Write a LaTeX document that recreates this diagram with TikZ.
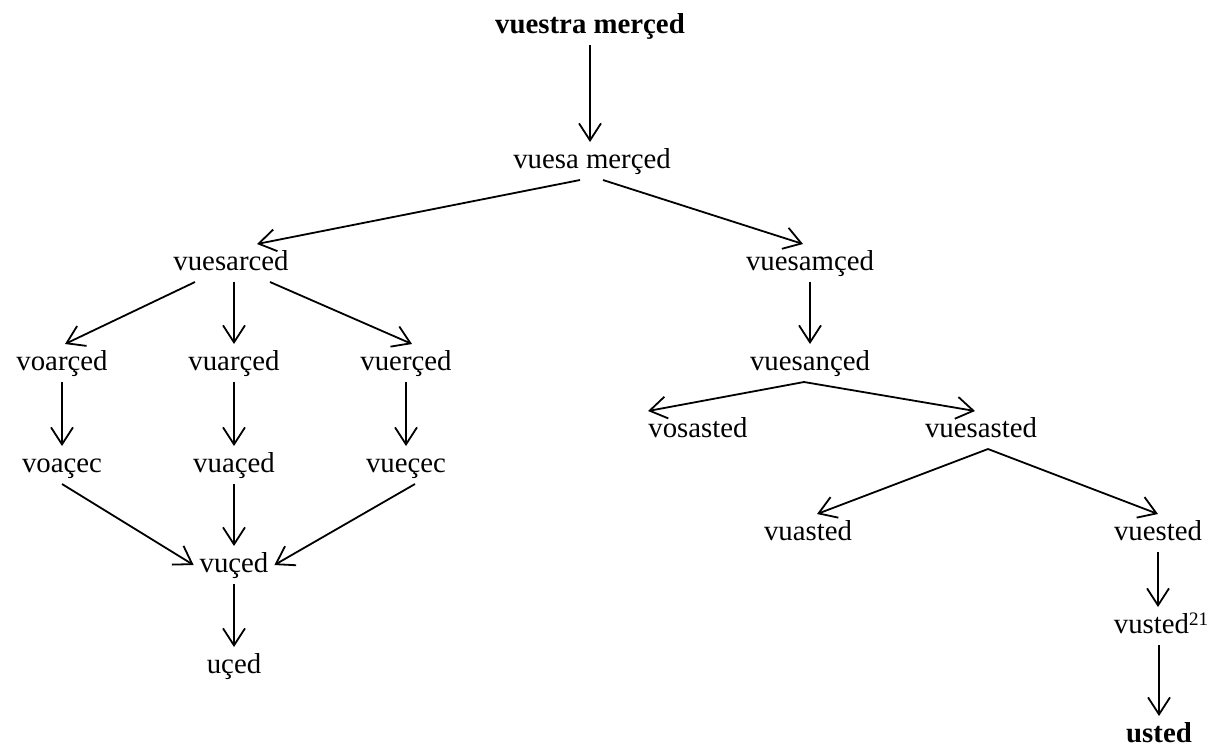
\documentclass[tikz,border=0pt]{standalone}
\usepackage{fontspec}
\setmainfont{Liberation Serif}
\usetikzlibrary{arrows.meta}

\begin{document}
\begin{tikzpicture}[x=0.5pt, y=-0.5pt
        , every path/.style={ line width=0.9pt }
        , every node/.style={ inner sep=0pt, outer sep=3pt, anchor=base
            , text height=10pt, text depth=3pt
            , font=\fontsize{14.4}{17}\selectfont }
        , arr/.style={ -{Straight Barb[length=8.5pt,width=11pt]} }
        ]
        \useasboundingbox (0,0) rectangle (1209,746);

        % top of the tree
        \node (vuestra) at (590,33) {\textbf{vuestra merçed}};
        \node (vuesa)   at (592,168) {vuesa merçed};

        % left branch
        \node (vuesarced) at (231,270) {vuesarced};
        \node (voarced) at (62,370) {voarçed};
        \node (vuarced) at (234,370) {vuarçed};
        \node (vuerced) at (406,370) {vuerçed};
        \node (voacec) at (62,472) {voaçec};
        \node (vuaced) at (234,472) {vuaçed};
        \node (vuecec) at (406,472) {vueçec};
        \node (vuced) at (234,572) {vuçed};
        \node (uced) at (234,673) {uçed};

        % right branch
        \node (vuesamced) at (810,270) {vuesamçed};
        \node (vuesanced) at (810,370) {vuesançed};
        \node (vosasted) at (698,437) {vosasted};
        \node (vuesasted) at (981,437) {vuesasted};
        \node (vuasted) at (808,540) {vuasted};
        \node (vuested) at (1158,540) {vuested};
        \node (vusted) at (1161,633) {vusted\raisebox{4pt}{\fontsize{9.5}{10}\selectfont 21}};
        \node (usted) at (1159,742) {\textbf{usted}};

        \draw[arr] (vuestra.south) -- (vuestra.south |- vuesa.north);
        \draw[arr] ([xshift=-6pt]vuesa.south) -- ([xshift=13pt]vuesarced.north);
        \draw[arr] ([xshift=5.5pt]vuesa.south) -- ([xshift=-3.5pt]vuesamced.north);

        % vuesarced splits three ways
        \draw[arr] ([xshift=-18pt]vuesarced.south) -- ([xshift=1.5pt]voarced.north);
        \draw[arr] (vuarced.north |- vuesarced.south) -- (vuarced.north);
        \draw[arr] ([xshift=19.5pt]vuesarced.south) -- ([xshift=3pt]vuerced.north);

        \foreach \a/\b in {voarced/voacec, vuarced/vuaced, vuerced/vuecec,
                           vuaced/vuced, vuced/uced, vuesamced/vuesanced}
            \draw[arr] (\a.south) -- (\b.north);
        \draw[arr] (vuested.south) -- (vuested.south |- vusted.north);
        \draw[arr] (usted.north |- vusted.south) -- (usted.north);

        % and they meet again
        \draw[arr] (voacec.south) -- (vuced.west);
        \draw[arr] ([xshift=4.5pt]vuecec.south) -- (vuced.east);

        \draw[arr] ([xshift=-3pt]vuesanced.south) -- ([xshift=-25pt]vosasted.north);
        \draw[arr] ([xshift=-3pt]vuesanced.south) -- ([xshift=-3pt]vuesasted.north);
        \draw[arr] ([xshift=3.5pt]vuesasted.south) -- ([xshift=4.5pt]vuasted.north);
        \draw[arr] ([xshift=3.5pt]vuesasted.south) -- (vuested.north);

    \end{tikzpicture}
\end{document}
